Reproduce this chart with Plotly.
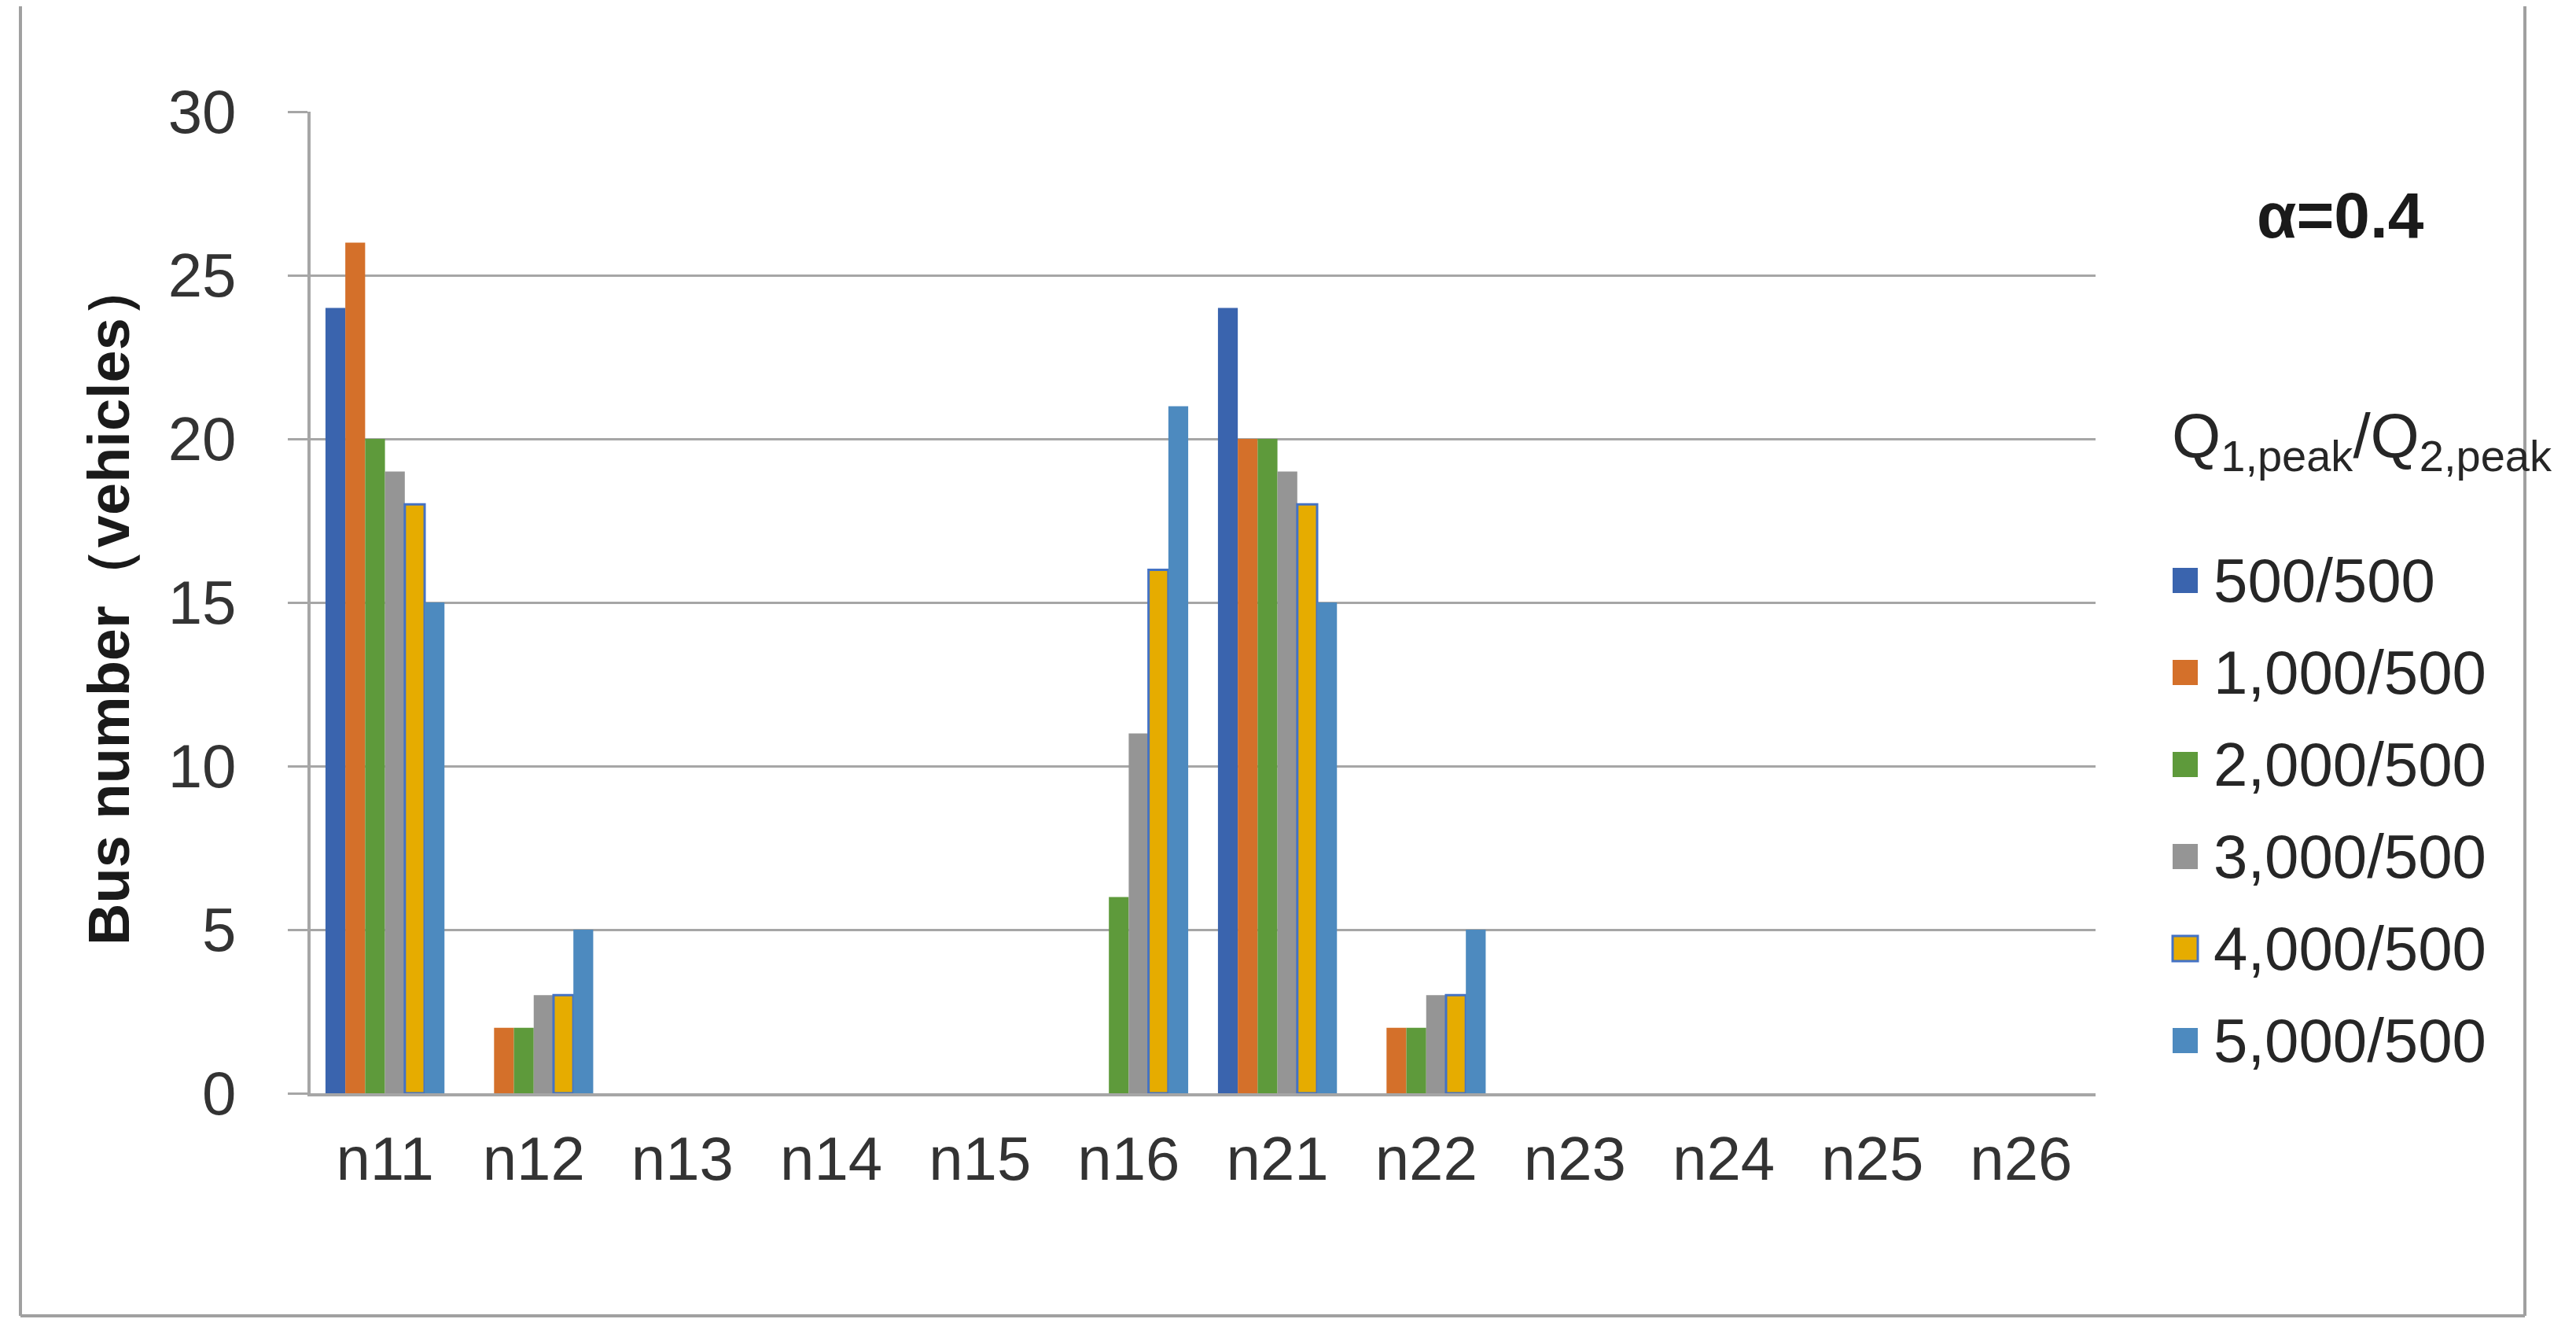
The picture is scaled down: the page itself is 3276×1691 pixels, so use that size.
import plotly.graph_objects as go

CATEGORIES = ["n11", "n12", "n13", "n14", "n15", "n16",
              "n21", "n22", "n23", "n24", "n25", "n26"]

SERIES_NAMES = ["500/500", "1,000/500", "2,000/500", "3,000/500", "4,000/500", "5,000/500"]

Q_500 = [24, 0, 0, 0, 0, 0, 24, 0, 0, 0, 0, 0]
Q_1000 = [26, 2, 0, 0, 0, 0, 20, 2, 0, 0, 0, 0]
Q_2000 = [20, 2, 0, 0, 0, 6, 20, 2, 0, 0, 0, 0]
Q_3000 = [19, 3, 0, 0, 0, 11, 19, 3, 0, 0, 0, 0]
Q_4000 = [18, 3, 0, 0, 0, 16, 18, 3, 0, 0, 0, 0]
Q_5000 = [15, 5, 0, 0, 0, 21, 15, 5, 0, 0, 0, 0]

SERIES_VALUES = [Q_500, Q_1000, Q_2000, Q_3000, Q_4000, Q_5000]

COLORS = ["#3A64AE", "#D4702A", "#5E9A3B", "#959595", "#E6AC00", "#4D8ABF"]
OUTLINES = [None, None, None, None, "#4472C4", None]

W, H = 3276, 1691
# plot area in pixels
PL, PR, PT, PB = 387, 2657, 134, 1382
GRID = "#A6A6A6"
TEXT = "#333333"
FONT = "Liberation Sans, Arial, sans-serif"


def px(x):
    return (x - PL) / (PR - PL)


def py(y):
    return (PB - y) / (PB - PT)


fig = go.Figure()
for name, vals, color, outline in zip(SERIES_NAMES, SERIES_VALUES, COLORS, OUTLINES):
    fig.add_trace(
        go.Bar(
            x=CATEGORIES,
            y=vals,
            name=name,
            showlegend=False,
            marker={
                "color": color,
                "line": {
                    "color": outline or color,
                    "width": [3 if (outline and v) else 0 for v in vals],
                },
            },
        )
    )

# manual legend (Excel-like big swatches)
shapes = []
annotations = []
annotations.append(dict(
    text="Q<sub>1,peak</sub>/Q<sub>2,peak</sub>",
    x=px(2752), y=py(552), xref="paper", yref="paper",
    xanchor="left", yanchor="middle", showarrow=False,
    font={"family": FONT, "size": 80, "color": "#262626"},
))
annotations.append(dict(
    text="<b>α=0.4</b>",
    x=px(2968), y=py(266), xref="paper", yref="paper",
    xanchor="center", yanchor="middle", showarrow=False,
    font={"family": FONT, "size": 82, "color": "#1A1A1A"},
))
for i, (name, color, outline) in enumerate(zip(SERIES_NAMES, COLORS, OUTLINES)):
    cy = 730 + 117 * i
    shapes.append(dict(
        type="rect", xref="paper", yref="paper",
        x0=px(2755), x1=px(2787), y0=py(cy + 16), y1=py(cy - 16),
        fillcolor=color,
        line={"color": outline or color, "width": 3 if outline else 0},
    ))
    annotations.append(dict(
        text=name,
        x=px(2805), y=py(cy), xref="paper", yref="paper",
        xanchor="left", yanchor="middle", showarrow=False,
        font={"family": FONT, "size": 78, "color": "#262626"},
    ))

# chart frame (left, bottom, right)
for x0, y0, x1, y1 in [(18, 0, 18, 1665), (18, 1665, 3203, 1665), (3203, 0, 3203, 1665)]:
    shapes.append(dict(
        type="line", xref="paper", yref="paper",
        x0=px(x0), y0=py(y0), x1=px(x1), y1=py(y1),
        line={"color": "#A0A0A0", "width": 4},
    ))

fig.update_layout(
    width=W,
    height=H,
    margin={"l": PL, "r": W - PR, "t": PT, "b": H - PB},
    paper_bgcolor="white",
    plot_bgcolor="white",
    barmode="group",
    bargap=0.2,
    bargroupgap=0,
    font={"family": FONT, "size": 78, "color": TEXT},
    shapes=shapes,
    annotations=annotations,
    xaxis={
        "showline": True,
        "linecolor": GRID,
        "linewidth": 4,
        "ticks": "",
        "showgrid": False,
        "ticklabelstandoff": 12,
        "tickfont": {"family": FONT, "size": 78, "color": TEXT},
    },
    yaxis={
        "range": [0, 30],
        "dtick": 5,
        "showline": True,
        "linecolor": GRID,
        "linewidth": 4,
        "ticks": "outside",
        "ticklen": 25,
        "tickwidth": 3,
        "tickcolor": GRID,
        "gridcolor": GRID,
        "gridwidth": 3,
        "zeroline": False,
        "ticklabelstandoff": 50,
        "tickfont": {"family": FONT, "size": 78, "color": TEXT},
        "title": {
            "text": "<b>Bus number（vehicles）</b>",
            "standoff": 26,
            "font": {
                "family": "Liberation Sans Narrow, Arial Narrow, Liberation Sans, sans-serif",
                "size": 74,
                "color": "#1A1A1A",
            },
        },
    },
)

fig.write_html("out.html")
